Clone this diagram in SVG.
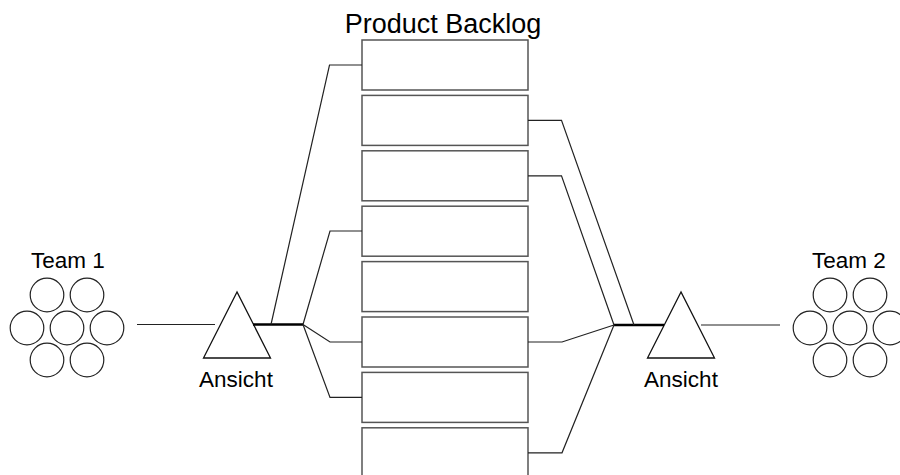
<svg xmlns="http://www.w3.org/2000/svg" width="900" height="475" viewBox="0 0 900 475">
<style>
text{font-family:"Liberation Sans",Arial,sans-serif;fill:#000;text-anchor:middle}
.lbl{font-size:22.5px}
.title{font-size:27px}
.box{fill:#fff;stroke:#555;stroke-width:1.5}
.member{fill:#fff;stroke:#222;stroke-width:1.2}
.view{fill:#fff;stroke:#111;stroke-width:1.3}
.conn{fill:none;stroke:#222;stroke-width:1.2}
.thick{fill:none;stroke:#000;stroke-width:2.3}
</style>
<rect width="900" height="475" fill="#fff"/>
<g id="backlog">
<text class="title" x="443" y="33">Product Backlog</text>
<rect class="box" x="362" y="40" width="166" height="50"/>
<rect class="box" x="362" y="95.4" width="166" height="50"/>
<rect class="box" x="362" y="150.8" width="166" height="50"/>
<rect class="box" x="362" y="206.2" width="166" height="50"/>
<rect class="box" x="362" y="261.6" width="166" height="50"/>
<rect class="box" x="362" y="317" width="166" height="50"/>
<rect class="box" x="362" y="372.4" width="166" height="50"/>
<rect class="box" x="362" y="427.8" width="166" height="50"/>
</g>
<g id="team1">
<text class="lbl" x="68" y="268">Team 1</text>
<circle class="member" cx="47" cy="295" r="16.8"/>
<circle class="member" cx="87" cy="295" r="16.8"/>
<circle class="member" cx="27" cy="328" r="16.8"/>
<circle class="member" cx="67" cy="328" r="16.8"/>
<circle class="member" cx="107" cy="328" r="16.8"/>
<circle class="member" cx="47" cy="360" r="16.8"/>
<circle class="member" cx="87" cy="360" r="16.8"/>
</g>
<g id="team2">
<text class="lbl" x="849" y="268">Team 2</text>
<circle class="member" cx="830" cy="295" r="16.8"/>
<circle class="member" cx="870" cy="295" r="16.8"/>
<circle class="member" cx="810" cy="328" r="16.8"/>
<circle class="member" cx="850" cy="328" r="16.8"/>
<circle class="member" cx="890" cy="328" r="16.8"/>
<circle class="member" cx="830" cy="360" r="16.8"/>
<circle class="member" cx="870" cy="360" r="16.8"/>
</g>
<g id="view1">
<polygon class="view" points="237,292 203.5,358 270.5,358"/>
<text class="lbl" x="236" y="387">Ansicht</text>
</g>
<g id="view2">
<polygon class="view" points="681,292 647.5,358 714.5,358"/>
<text class="lbl" x="681" y="387">Ansicht</text>
</g>
<g id="connectors">
<line class="conn" x1="137" y1="324.5" x2="215" y2="324.5"/>
<line class="thick" x1="253" y1="324.5" x2="303" y2="324.5"/>
<polyline class="conn" points="271,324.5 329.5,65 362,65"/>
<polyline class="conn" points="303,324.5 330,231 362,231"/>
<polyline class="conn" points="303,324.5 330,342 362,342"/>
<polyline class="conn" points="303,324.5 330,397.4 362,397.4"/>
<line class="thick" x1="614" y1="325" x2="664" y2="325"/>
<line class="conn" x1="701" y1="325" x2="780" y2="325"/>
<polyline class="conn" points="528,120.4 561.5,120.4 634,325"/>
<polyline class="conn" points="528,175.8 561.5,175.8 614,325"/>
<polyline class="conn" points="528,342 562,342 614,325"/>
<polyline class="conn" points="528,452.8 562,452.8 614,325"/>
</g>
</svg>
